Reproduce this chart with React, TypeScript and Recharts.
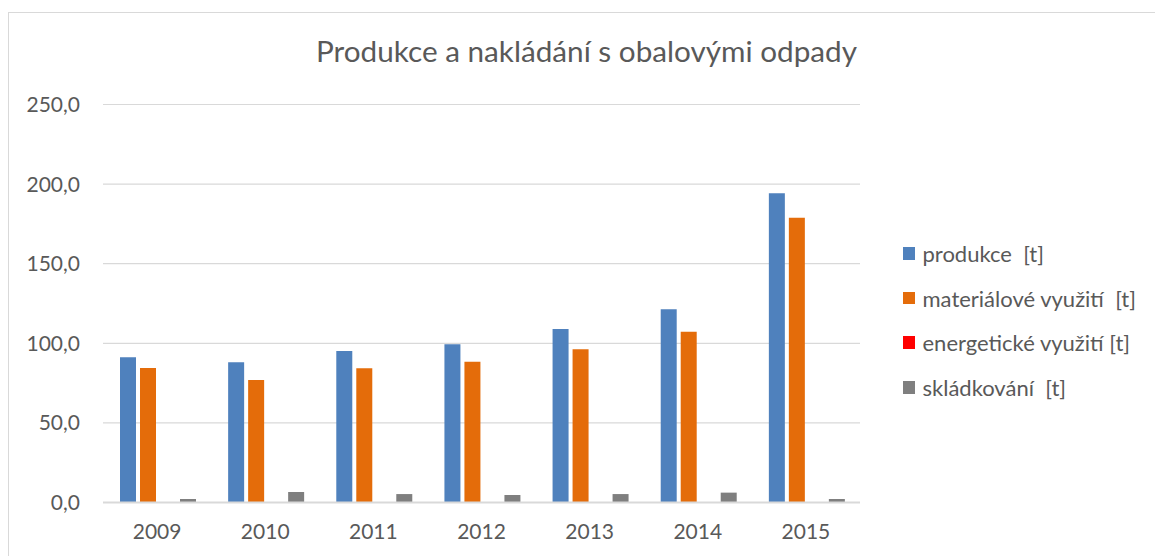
import React from 'react';
import { BarChart, Bar, XAxis, YAxis, CartesianGrid } from 'recharts';

const years = ['2009', '2010', '2011', '2012', '2013', '2014', '2015'];
const produkce = [91.2, 88.1, 95.2, 99.4, 109.0, 121.4, 194.2];
const materialove = [84.5, 77.0, 84.3, 88.4, 96.2, 107.3, 178.9];
const energeticke = [0, 0, 0, 0, 0, 0, 0];
const skladkovani = [2.2, 6.6, 5.3, 4.7, 5.3, 6.2, 2.2];
const yTicks = [0, 50, 100, 150, 200, 250];

const seriesKeys = ['produkce', 'materialove', 'energeticke', 'skladkovani'];
const seriesNames = [
  'produkce  [t]',
  'materiálové využití  [t]',
  'energetické využití [t]',
  'skládkování  [t]',
];
const seriesColors = ['#4f81bd', '#e46c0a', '#ff0000', '#7f7f7f'];

const data = years.map((y, i) => ({
  year: y,
  produkce: produkce[i],
  materialove: materialove[i],
  energeticke: energeticke[i],
  skladkovani: skladkovani[i],
}));

const FONT = 'Lato, "Open Sans", sans-serif';
const TEXT = '#595959';

export default function App() {
  return (
    <div style={{ position: 'absolute', left: 0, top: 0, width: 1155, height: 556, overflow: 'hidden', background: '#fff' }}>
      <div
        style={{
          position: 'absolute', left: 8, top: 12, width: 1300, height: 700,
          border: '1px solid #d9d9d9', boxSizing: 'border-box',
        }}
      />
      <div
        style={{
          position: 'absolute', left: 0, top: 33, width: 1173, textAlign: 'center',
          fontFamily: FONT, fontSize: 29.7, color: TEXT, whiteSpace: 'pre', lineHeight: '36px',
        }}
      >
        Produkce a nakládání s obalovými odpady
      </div>
      <div style={{ position: 'absolute', left: 902.5, top: 231, fontFamily: FONT }}>
        {seriesNames.map((name, i) => (
          <div key={i} style={{ display: 'flex', alignItems: 'center', height: 44.7, whiteSpace: 'pre' }}>
            <span
              style={{ display: 'inline-block', width: 12.5, height: 12.5, background: seriesColors[i], marginRight: 7.5 }}
            />
            <span style={{ fontSize: 22, color: TEXT }}>{name}</span>
          </div>
        ))}
      </div>
      <div style={{ position: 'absolute', left: 0, top: 0 }}>
        <BarChart
          width={1155}
          height={556}
          data={data}
          margin={{ top: 104.5, right: 295, bottom: 23.5, left: 0 }}
          barCategoryGap={17}
          barGap={4}
        >
          <CartesianGrid horizontal vertical={false} stroke="#d9d9d9" strokeWidth={1.2} />
          <XAxis
            dataKey="year"
            height={30}
            axisLine={{ stroke: '#d9d9d9', strokeWidth: 2 }}
            tickLine={false}
            tickSize={0}
            tickMargin={22}
            tick={{ fill: TEXT, fontSize: 21, fontFamily: FONT }}
          />
          <YAxis
            width={103}
            domain={[0, 250]}
            ticks={yTicks}
            interval={0}
            axisLine={false}
            tickLine={false}
            tickSize={0}
            tickMargin={23}
            tick={{ fill: TEXT, fontSize: 21, fontFamily: FONT }}
            tickFormatter={(v: number) => v.toFixed(1).replace('.', ',')}
          />
          {seriesKeys.map((k, i) => (
            <Bar key={k} dataKey={k} name={seriesNames[i]} fill={seriesColors[i]} isAnimationActive={false} />
          ))}
        </BarChart>
      </div>
    </div>
  );
}
